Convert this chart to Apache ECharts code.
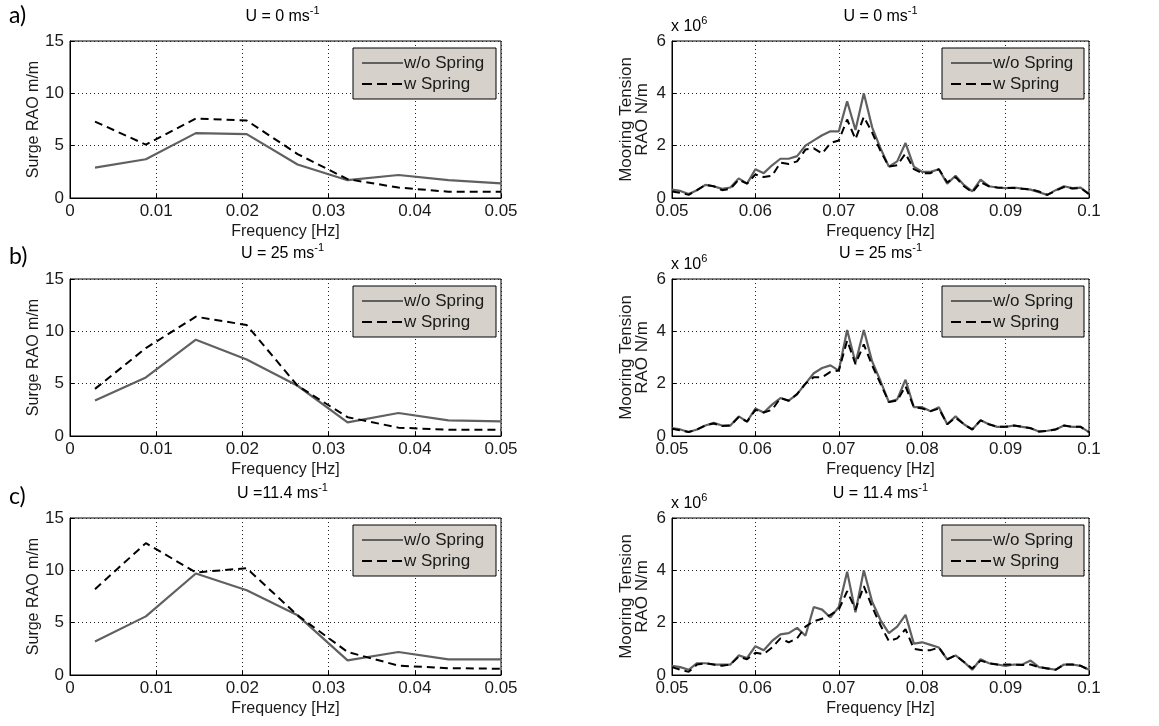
<!DOCTYPE html>
<html><head><meta charset="utf-8">
<script src="https://cdn.jsdelivr.net/npm/echarts@6/dist/echarts.min.js"></script>
<style>html,body{margin:0;padding:0;background:#fff}#c{width:1159px;height:726px}</style>
</head><body><div id="c"></div>
<script>
// ---------- data ----------
const freqSurge = [0.0029, 0.0088, 0.0146, 0.0205, 0.0264, 0.0322, 0.0381, 0.0439, 0.05];
const surgeA_noSpring = [2.9, 3.7, 6.2, 6.1, 3.2, 1.7, 2.2, 1.7, 1.4];
const surgeA_spring   = [7.3, 5.1, 7.6, 7.4, 4.2, 1.8, 1.0, 0.6, 0.6];
const surgeB_noSpring = [3.4, 5.6, 9.2, 7.3, 4.8, 1.3, 2.2, 1.5, 1.4];
const surgeB_spring   = [4.5, 8.4, 11.4, 10.6, 4.8, 1.8, 0.8, 0.6, 0.6];
const surgeC_noSpring = [3.2, 5.6, 9.7, 8.1, 5.7, 1.4, 2.2, 1.5, 1.5];
const surgeC_spring   = [8.2, 12.6, 9.8, 10.2, 5.7, 2.2, 0.9, 0.65, 0.6];

const freqTension = [0.050,0.051,0.052,0.053,0.054,0.055,0.056,0.057,0.058,0.059,
  0.060,0.061,0.062,0.063,0.064,0.065,0.066,0.067,0.068,0.069,
  0.070,0.071,0.072,0.073,0.074,0.075,0.076,0.077,0.078,0.079,
  0.080,0.081,0.082,0.083,0.084,0.085,0.086,0.087,0.088,0.089,
  0.090,0.091,0.092,0.093,0.094,0.095,0.096,0.097,0.098,0.099,0.100];
// tension values in units of 1e6 N/m
const tensionA_noSpring = [0.32,0.27,0.15,0.3,0.5,0.45,0.35,0.4,0.75,0.55,1.1,0.95,1.25,1.5,1.5,1.6,2.0,2.2,2.4,2.55,2.55,3.7,2.6,4.0,2.7,1.9,1.2,1.4,2.1,1.2,1.0,1.0,1.1,0.55,0.85,0.5,0.25,0.7,0.45,0.4,0.38,0.4,0.36,0.32,0.22,0.12,0.3,0.45,0.38,0.4,0.15];
const tensionA_spring   = [0.25,0.2,0.12,0.3,0.5,0.45,0.3,0.35,0.7,0.55,0.9,0.8,0.85,1.35,1.3,1.4,1.85,1.9,1.7,2.1,2.2,3.0,2.25,3.1,2.5,1.8,1.2,1.25,1.7,1.1,0.95,0.95,1.1,0.6,0.8,0.45,0.22,0.6,0.45,0.4,0.38,0.38,0.35,0.33,0.25,0.12,0.28,0.42,0.36,0.38,0.15];
const tensionB_noSpring = [0.3,0.25,0.15,0.25,0.4,0.5,0.4,0.4,0.75,0.55,1.05,0.9,1.2,1.45,1.35,1.6,2.0,2.4,2.6,2.7,2.5,4.05,2.8,4.05,2.85,2.1,1.3,1.4,2.15,1.1,1.1,0.95,1.1,0.45,0.75,0.45,0.25,0.6,0.45,0.35,0.35,0.4,0.35,0.3,0.17,0.2,0.25,0.4,0.35,0.35,0.15];
const tensionB_spring   = [0.28,0.22,0.15,0.25,0.4,0.48,0.38,0.4,0.72,0.55,1.0,0.9,1.0,1.45,1.35,1.6,2.0,2.25,2.25,2.45,2.5,3.65,2.75,3.5,2.7,2.0,1.3,1.35,1.9,1.1,1.05,0.95,1.05,0.45,0.7,0.45,0.25,0.6,0.45,0.35,0.35,0.4,0.35,0.3,0.17,0.2,0.25,0.4,0.35,0.35,0.15];
const tensionC_noSpring = [0.35,0.3,0.2,0.45,0.45,0.4,0.4,0.4,0.75,0.65,1.1,0.95,1.3,1.55,1.6,1.8,1.5,2.6,2.5,2.2,2.6,3.95,2.4,4.0,2.8,2.1,1.6,1.85,2.3,1.2,1.25,1.15,1.05,0.6,0.75,0.5,0.2,0.6,0.45,0.4,0.35,0.4,0.4,0.55,0.3,0.25,0.2,0.4,0.4,0.35,0.2];
const tensionC_spring   = [0.3,0.2,0.12,0.4,0.45,0.4,0.35,0.4,0.7,0.6,0.85,0.8,1.05,1.4,1.25,1.4,1.85,2.05,2.15,2.3,2.5,3.2,2.5,3.4,2.6,1.9,1.3,1.4,1.75,1.0,0.95,0.95,1.05,0.6,0.75,0.5,0.25,0.55,0.45,0.4,0.4,0.4,0.38,0.4,0.3,0.25,0.2,0.4,0.4,0.35,0.2];

const seriesNames = ['w/o Spring', 'w Spring'];
const surgeTicks = [0, 5, 10, 15];
const tensionTicks = [0, 2, 4, 6];
const panelLetters = ['a)', 'b)', 'c)'];
const leftTitles  = [['U = 0 ms', '-1'], ['U = 25 ms', '-1'], ['U =11.4 ms', '-1']];
const rightTitles = [['U = 0 ms', '-1'], ['U = 25 ms', '-1'], ['U = 11.4 ms', '-1']];

// ---------- layout ----------
const FONT = "'Liberation Sans',Arial,sans-serif";
const TXT = '#1a1a1a';
const rowTops = [41, 279, 518];
const PH = 157;
const LX = 70, LW = 431, RX = 672, RW = 417;
const SOLID = {color: '#606060', width: 2.2};
const DASH = {color: '#000', width: 2, dash: [8, 5]};

const zip = (xs, ys) => xs.map((x, i) => [x, ys[i]]);
const panels = [
  {x: LX, w: LW, top: rowTops[0], fx: freqSurge, s: [surgeA_noSpring, surgeA_spring], kind: 'surge'},
  {x: RX, w: RW, top: rowTops[0], fx: freqTension, s: [tensionA_noSpring, tensionA_spring], kind: 'tension'},
  {x: LX, w: LW, top: rowTops[1], fx: freqSurge, s: [surgeB_noSpring, surgeB_spring], kind: 'surge'},
  {x: RX, w: RW, top: rowTops[1], fx: freqTension, s: [tensionB_noSpring, tensionB_spring], kind: 'tension'},
  {x: LX, w: LW, top: rowTops[2], fx: freqSurge, s: [surgeC_noSpring, surgeC_spring], kind: 'surge'},
  {x: RX, w: RW, top: rowTops[2], fx: freqTension, s: [tensionC_noSpring, tensionC_spring], kind: 'tension'}
];

const grid = [], xAxis = [], yAxis = [], series = [], graphic = [];
const dotted = {show: true, lineStyle: {color: '#222', width: 1, type: [1, 3]}};
panels.forEach((p, i) => {
  grid.push({left: p.x, top: p.top, width: p.w, height: PH, show: true, borderColor: '#000', borderWidth: 1, backgroundColor: '#fff'});
  const isS = p.kind === 'surge';
  xAxis.push({
    gridIndex: i, type: 'value',
    min: isS ? 0 : 0.05, max: isS ? 0.05 : 0.1, interval: 0.01,
    axisLine: {show: true, lineStyle: {color: '#000', width: 1}},
    axisTick: {show: true, inside: true, length: 4, lineStyle: {color: '#000'}},
    axisLabel: {color: TXT, fontFamily: FONT, fontSize: 17, margin: 5},
    splitLine: dotted,
    name: 'Frequency [Hz]', nameLocation: 'middle', nameGap: 26,
    nameTextStyle: {color: TXT, fontFamily: FONT, fontSize: 16}
  });
  const ticks = isS ? surgeTicks : tensionTicks;
  yAxis.push({
    gridIndex: i, type: 'value',
    min: ticks[0], max: ticks[ticks.length - 1], interval: ticks[1] - ticks[0],
    axisLine: {show: true, lineStyle: {color: '#000', width: 1}},
    axisTick: {show: true, inside: true, length: 4, lineStyle: {color: '#000'}},
    axisLabel: {color: TXT, fontFamily: FONT, fontSize: 17, margin: 6},
    splitLine: dotted,
    name: isS ? 'Surge RAO m/m' : 'Mooring Tension\nRAO N/m',
    nameLocation: 'middle', nameGap: isS ? 17 : 22, nameRotate: 90,
    nameTextStyle: {color: TXT, fontFamily: FONT, fontSize: isS ? 16 : 17, lineHeight: 16}
  });
  series.push({
    name: seriesNames[0], type: 'line', xAxisIndex: i, yAxisIndex: i,
    data: zip(p.fx, p.s[0]), symbol: 'none', silent: true, animation: false,
    lineStyle: {color: SOLID.color, width: SOLID.width, type: 'solid'}
  });
  series.push({
    name: seriesNames[1], type: 'line', xAxisIndex: i, yAxisIndex: i,
    data: zip(p.fx, p.s[1]), symbol: 'none', silent: true, animation: false,
    lineStyle: {color: DASH.color, width: DASH.width, type: DASH.dash}
  });
  // legend box (MATLAB style)
  const bw = isS ? 143 : 142, bh = 51;
  const bx = p.x + p.w - 5 - bw, by = p.top + 7;
  graphic.push({type: 'rect', shape: {x: bx, y: by, width: bw, height: bh},
    style: {fill: '#d6d2cb', stroke: '#000', lineWidth: 1}, z: 100, silent: true});
  graphic.push({type: 'line', shape: {x1: bx + 9, y1: by + 15, x2: bx + 50, y2: by + 15},
    style: {stroke: SOLID.color, lineWidth: SOLID.width}, z: 101, silent: true});
  graphic.push({type: 'line', shape: {x1: bx + 9, y1: by + 36, x2: bx + 50, y2: by + 36},
    style: {stroke: DASH.color, lineWidth: DASH.width, lineDash: [10, 5]}, z: 101, silent: true});
  graphic.push({type: 'text', x: bx + 51, y: by + 15, z: 101, silent: true,
    style: {text: seriesNames[0], font: '17px ' + FONT, fill: TXT, verticalAlign: 'middle', align: 'left'}});
  graphic.push({type: 'text', x: bx + 51, y: by + 36, z: 101, silent: true,
    style: {text: seriesNames[1], font: '17px ' + FONT, fill: TXT, verticalAlign: 'middle', align: 'left'}});
});

// titles with superscripts
const rich = {
  n: {fontFamily: FONT, fontSize: 16, color: TXT, lineHeight: 20, verticalAlign: 'bottom'},
  s: {fontFamily: FONT, fontSize: 11, color: TXT, verticalAlign: 'top'}
};
const titleY = [15, 252, 492];
[0, 1, 2].forEach(r => {
  graphic.push({type: 'text', x: LX + LW / 2 - 3, y: titleY[r], silent: true,
    style: {text: '{n|' + leftTitles[r][0] + '}{s|' + leftTitles[r][1] + '}', rich: rich, align: 'center', verticalAlign: 'middle'}});
  graphic.push({type: 'text', x: RX + RW / 2 + 0, y: titleY[r], silent: true,
    style: {text: '{n|' + rightTitles[r][0] + '}{s|' + rightTitles[r][1] + '}', rich: rich, align: 'center', verticalAlign: 'middle'}});
  graphic.push({type: 'text', x: RX - 1, y: rowTops[r] - 16, silent: true,
    style: {text: '{n|x 10}{s|6}', rich: rich, align: 'left', verticalAlign: 'middle'}});
  graphic.push({type: 'text', x: 9, y: titleY[r] + (r === 0 ? 1 : 5), silent: true,
    style: {text: panelLetters[r], font: "23px Lato, 'Open Sans', sans-serif", fill: '#000', verticalAlign: 'middle'}});
});

const chart = echarts.init(document.getElementById('c'), null, {renderer: 'canvas'});
chart.setOption({animation: false, grid, xAxis, yAxis, series, graphic});
</script></body></html>
